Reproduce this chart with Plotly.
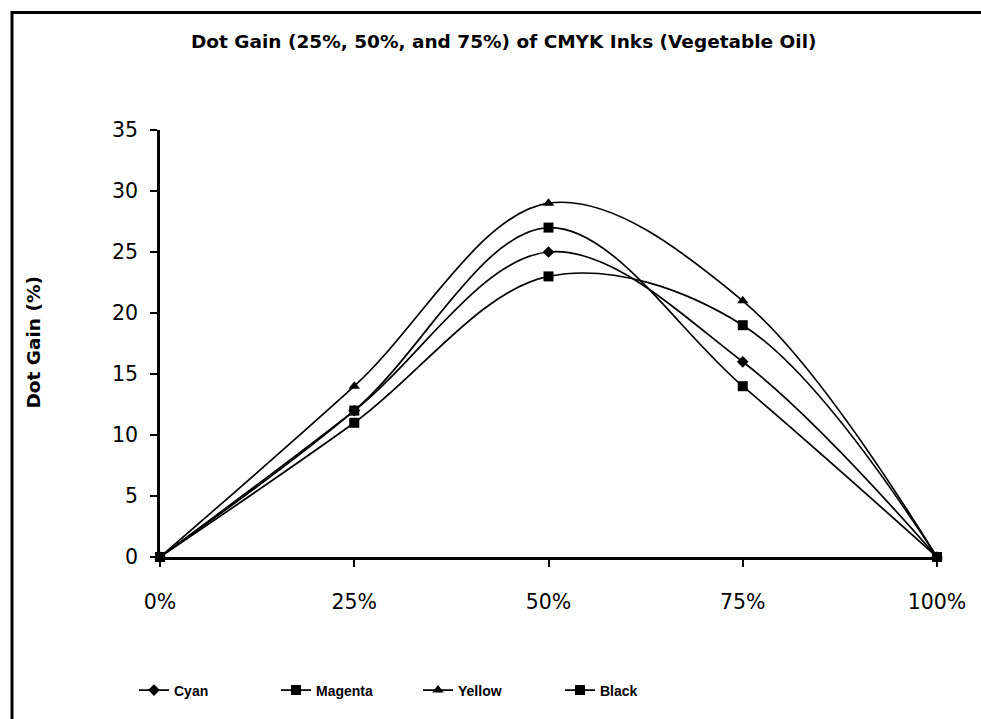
import plotly.graph_objects as go

x_vals = [0, 25, 50, 75, 100]
x_labels = ["0%", "25%", "50%", "75%", "100%"]
y_ticks = [0, 5, 10, 15, 20, 25, 30, 35]

cyan = [0, 12, 25, 16, 0]
magenta = [0, 12, 27, 14, 0]
yellow = [0, 14, 29, 21, 0]
black = [0, 11, 23, 19, 0]

series = [
    ("Cyan", cyan, "diamond", 9),
    ("Magenta", magenta, "square", 10),
    ("Yellow", yellow, "triangle-up", 10),
    ("Black", black, "square", 10),
]

fig = go.Figure()
for name, vals, sym, sz in series:
    fig.add_trace(go.Scatter(
        x=x_vals, y=vals, name=name, mode="lines+markers",
        line=dict(color="black", width=1.7, shape="spline", smoothing=1.0),
        marker=dict(symbol=sym, size=sz, color="black"),
        cliponaxis=False,
    ))

L, R, T, B = 160, 44, 130, 157
W, H = 981, 719
pw, ph = W - L - R, H - T - B

def px(xp):
    return (xp - L) / pw

def py(yp):
    return (H - B - yp) / ph

WIDE = "DejaVu Sans, Verdana, sans-serif"
ARIAL = "Arial, Liberation Sans, sans-serif"

fig.update_layout(
    width=W, height=H,
    margin=dict(l=L, r=R, t=T, b=B),
    paper_bgcolor="white", plot_bgcolor="white",
    font=dict(family=WIDE, color="black"),
    showlegend=True,
    legend=dict(
        orientation="h", x=px(134), xanchor="left", y=py(697), yanchor="middle",
        font=dict(size=14, family=ARIAL, weight="bold"),
        entrywidth=97, entrywidthmode="pixels", itemwidth=30,
        bgcolor="rgba(0,0,0,0)",
    ),
    xaxis=dict(
        range=[0, 100], tickvals=x_vals, ticktext=x_labels,
        showline=True, linecolor="black", linewidth=2.5,
        ticks="outside", ticklen=7, tickwidth=2, tickcolor="black",
        showgrid=False, zeroline=False, ticklabelstandoff=18,
        tickfont=dict(size=20.5, family=WIDE), fixedrange=True,
    ),
    yaxis=dict(
        range=[0, 35], tickvals=y_ticks,
        showline=True, linecolor="black", linewidth=2.5,
        ticks="outside", ticklen=7, tickwidth=2, tickcolor="black",
        showgrid=False, zeroline=False, ticklabelstandoff=8,
        tickfont=dict(size=20.5, family=WIDE), fixedrange=True,
    ),
    annotations=[
        dict(text="<b>Dot Gain (25%, 50%, and 75%) of CMYK Inks (Vegetable Oil)</b>",
             xref="paper", yref="paper", x=px(503), y=py(40),
             xanchor="center", yanchor="middle", showarrow=False,
             font=dict(size=18.5, family=WIDE)),
        dict(text="<b>Dot Gain (%)</b>",
             xref="paper", yref="paper", x=px(34), y=py(345),
             xanchor="center", yanchor="middle", showarrow=False,
             textangle=-90, font=dict(size=18.5, family=WIDE)),
    ],
    shapes=[
        dict(type="rect", xref="paper", yref="paper",
             x0=px(12), x1=px(990), y0=py(740), y1=py(11),
             line=dict(color="black", width=3), fillcolor="rgba(0,0,0,0)",
             layer="below"),
    ],
)

fig.write_html("out.html")
